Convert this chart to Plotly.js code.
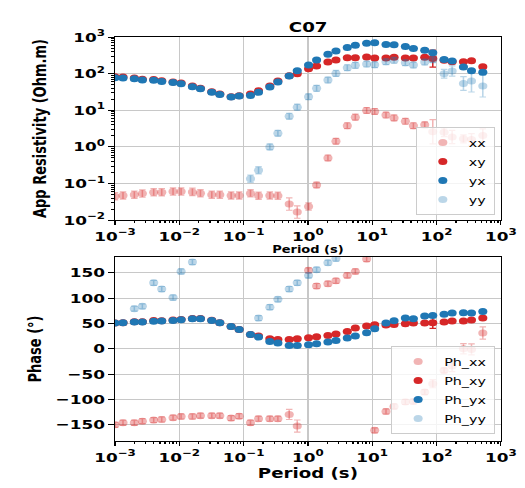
<!DOCTYPE html>
<html>
<head>
<meta charset="utf-8">
<script src="https://cdn.plot.ly/plotly-3.0.1.min.js"></script>
<style>
  html, body { margin: 0; padding: 0; background: #fff; overflow: hidden; }
  #wrap { width: 525px; height: 488px; overflow: hidden; }
  #chart { width: 404px; height: 488px; transform: scaleX(1.2995); transform-origin: 0 0; }
</style>
</head>
<body>
<div id="wrap"><div id="chart"></div></div>
<script>
// ---- data ----
const periods = [0.001, 0.001333, 0.002, 0.002667, 0.004, 0.005333, 0.008, 0.01067, 0.016, 0.02133,
  0.032, 0.04267, 0.064, 0.08533, 0.128, 0.1707, 0.256, 0.3413, 0.512, 0.6827,
  1.024, 1.365, 2.048, 2.731, 4.096, 5.461, 8.192, 10.92, 16.38, 21.85,
  32.77, 43.69, 65.54, 87.38, 131.1, 174.8, 262.1, 349.5, 524.3];

const rhoXX = [0.045, 0.047, 0.049, 0.053, 0.058, 0.058, 0.060, 0.060, 0.059, 0.054,
  0.049, 0.049, 0.047, 0.047, 0.054, 0.046, 0.047, 0.046, 0.0275, 0.0166,
  0.0234, 0.091, 0.50, 1.43, 3.8, 6.5, 9.9, 9.3, 7.4, 6.2,
  5.0, 3.8, 4.0, 2.6, 2.5, 1.87, 1.66, 1.6, 2.05];
const rhoXY = [83, 81, 76, 71, 69, 64, 59, 56, 46, 40,
  32, 28, 23.5, 25, 28, 34, 46, 63, 88, 100,
  137, 162, 208, 236, 274, 274, 285, 268, 268, 280,
  268, 268, 280, 258, 232, 213, 213, 226, 155];
const rhoYX = [78, 76, 73, 67, 66, 61, 57, 53, 44, 39,
  31, 27, 22.9, 24.5, 25.4, 31, 43, 59, 86, 120,
  172, 236, 338, 417, 516, 596, 677, 705, 632, 622,
  549, 484, 435, 376, 246, 221, 152, 121, 110];
const rhoYY = [null, null, null, null, null, null, null, null, null, null,
  null, null, null, null, 0.134, 0.23, 1.0, 2.36, 6.9, 12.2,
  23.5, 39.7, 67, 102, 146, 169, 183, 176, 213, 232,
  200, 172, 208, 240, 100, 118, 54, 63, 46];

// resistivity error half-widths in decades (log10 units)
const errRhoXX = [0.1, 0.1, 0.1, 0.1, 0.1, 0.1, 0.1, 0.1, 0.1, 0.1,
  0.1, 0.1, 0.1, 0.1, 0.1, 0.1, 0.1, 0.1, 0.17, 0.17,
  0.1, 0.08, 0.08, 0.08, 0.08, 0.08, 0.08, 0.08, 0.08, 0.08,
  0.08, 0.08, 0.08, 0.33, 0.12, 0.18, 0.11, 0.16, 0.18];
const errRhoXY = [0.03, 0.03, 0.03, 0.03, 0.03, 0.03, 0.03, 0.03, 0.03, 0.03,
  0.03, 0.03, 0.03, 0.03, 0.03, 0.03, 0.03, 0.03, 0.03, 0.03,
  0.03, 0.03, 0.03, 0.03, 0.03, 0.03, 0.03, 0.03, 0.03, 0.03,
  0.03, 0.03, 0.03, 0.23, 0.03, 0.03, 0.03, 0.03, 0.03];
const errRhoYX = [0.03, 0.03, 0.03, 0.03, 0.03, 0.03, 0.03, 0.03, 0.03, 0.03,
  0.03, 0.03, 0.03, 0.03, 0.03, 0.03, 0.03, 0.03, 0.03, 0.03,
  0.03, 0.03, 0.03, 0.03, 0.03, 0.03, 0.03, 0.03, 0.03, 0.03,
  0.03, 0.03, 0.03, 0.03, 0.03, 0.03, 0.03, 0.03, 0.03];
const errRhoYY = [0, 0, 0, 0, 0, 0, 0, 0, 0, 0,
  0, 0, 0, 0, 0.1, 0.1, 0.08, 0.08, 0.08, 0.08,
  0.08, 0.08, 0.08, 0.08, 0.08, 0.08, 0.08, 0.08, 0.08, 0.08,
  0.08, 0.08, 0.08, 0.08, 0.12, 0.14, 0.19, 0.3, 0.3];

const phXX = [-150, -146, -146, -142.8, -140.8, -139.5, -136, -133.6, -133.6, -132,
  -132, -132, -136.8, -133, -146, -138, -138, -138, -129.6, -152.6,
  154.6, 123.7, 128.3, 134, 144.7, 152.6, 177, -161, -123.7, -113.8,
  -105, -104, -85.5, -69, -42.8, -34.2, 0, -1.3, 31];
const phXY = [51, 51.5, 53, 53, 55.5, 55, 56.5, 57.5, 59.5, 59.5,
  56, 51.5, 44, 38, 28.3, 25, 19.7, 18.4, 18.4, 19.7,
  21.7, 23.7, 26.3, 29, 34.2, 40.8, 44.7, 47.4, 47, 48,
  49.3, 50.7, 50.7, 51.3, 52.6, 54.6, 54.6, 56.6, 60.5];
const phYX = [50.7, 51.3, 52.6, 52.6, 54, 54.6, 55.9, 57.2, 59.2, 59.2,
  55.9, 51.3, 44, 38, 28.3, 23, 14.5, 11.2, 6.6, 6.6,
  7.9, 9.9, 13.2, 16.4, 21, 25, 31.6, 39.5, 50.7, 55.3,
  60.5, 59.2, 64.5, 65.8, 67.8, 70.4, 71, 70.4, 73.7];
const phYY = [null, null, 79, 83.6, 130, 117.8, 101, 152.6, 171, null,
  null, null, null, null, null, 60.5, 82, 97.4, 117.8, 130,
  144.7, 156, 169.7, 178, null, null, null, null, null, null,
  null, null, null, null, null, null, null, null, null];

// phase error half-widths in degrees
const errPhXX = [5, 5, 5, 5, 5, 5, 5, 5, 5, 5,
  5, 5, 5, 5, 5, 5, 5, 5, 10, 12,
  5, 5, 5, 5, 5, 5, 5, 5, 5, 5,
  5, 5, 5, 8, 5, 11, 10, 11, 12];
const errPhXY = [2, 2, 2, 2, 2, 2, 2, 2, 2, 2,
  2, 2, 2, 2, 2, 2, 2, 2, 2, 2,
  2, 2, 2, 2, 2, 2, 2, 2, 2, 2,
  2, 2, 2, 11, 2, 2, 2, 2, 2];
const errPhYX = [2, 2, 2, 2, 2, 2, 2, 2, 2, 2,
  2, 2, 2, 2, 2, 2, 2, 2, 2, 2,
  2, 2, 2, 2, 2, 2, 2, 2, 2, 2,
  2, 2, 2, 2, 2, 2, 2, 2, 2];
const errPhYY = [5, 5, 5, 5, 5, 5, 5, 5, 5, 5,
  5, 5, 5, 5, 5, 5, 5, 5, 5, 5,
  5, 5, 5, 5, 5, 5, 5, 5, 5, 5,
  5, 5, 5, 5, 5, 5, 5, 5, 5];

const decadeTicksX = [1e-3, 1e-2, 1e-1, 1e0, 1e1, 1e2, 1e3];
const decadeTextX = ['10<sup>−3</sup>', '10<sup>−2</sup>', '10<sup>−1</sup>', '10<sup>0</sup>', '10<sup>1</sup>', '10<sup>2</sup>', '10<sup>3</sup>'];
const decadeTicksY = [1e-2, 1e-1, 1e0, 1e1, 1e2, 1e3];
const decadeTextY = ['10<sup>−2</sup>', '10<sup>−1</sup>', '10<sup>0</sup>', '10<sup>1</sup>', '10<sup>2</sup>', '10<sup>3</sup>'];
const phaseTicks = [-150, -100, -50, 0, 50, 100, 150];
const phaseText = ['−150', '−100', '−50', '0', '50', '100', '150'];

// ---- styling ----
const cXX = 'rgba(214,39,40,0.35)';
const cXY = '#d62728';
const cYX = '#1f77b4';
const cYY = 'rgba(31,119,180,0.3)';
const FONT = 'DejaVu Sans';

function minorLog(lo, hi) {
  const out = [];
  for (let e = lo; e < hi; e++) for (let m = 2; m <= 9; m++) out.push(m * Math.pow(10, e));
  return out;
}
function plusDex(v, d) { return v.map((y, i) => y == null ? null : y * (Math.pow(10, d[i]) - 1)); }
function minusDex(v, d) { return v.map((y, i) => y == null ? null : y * (1 - Math.pow(10, -d[i]))); }

function rhoTrace(name, vals, err, color) {
  return {
    type: 'scatter', mode: 'markers', name: name, x: periods, y: vals,
    xaxis: 'x', yaxis: 'y', legend: 'legend',
    marker: { color: color, size: 7, line: { width: 0 } },
    error_y: { type: 'data', symmetric: false, array: plusDex(vals, err), arrayminus: minusDex(vals, err),
      color: color, thickness: 1.2, width: 2.5 }
  };
}
function phTrace(name, vals, err, color) {
  return {
    type: 'scatter', mode: 'markers', name: name, x: periods, y: vals,
    xaxis: 'x2', yaxis: 'y2', legend: 'legend2',
    marker: { color: color, size: 7, line: { width: 0 } },
    error_y: { type: 'data', array: err, color: color, thickness: 1.2, width: 2.5 }
  };
}

const traces = [
  rhoTrace('xx', rhoXX, errRhoXX, cXX),
  rhoTrace('xy', rhoXY, errRhoXY, cXY),
  rhoTrace('yx', rhoYX, errRhoYX, cYX),
  rhoTrace('yy', rhoYY, errRhoYY, cYY),
  phTrace('Ph_xx', phXX, errPhXX, cXX),
  phTrace('Ph_xy', phXY, errPhXY, cXY),
  phTrace('Ph_yx', phYX, errPhYX, cYX),
  phTrace('Ph_yy', phYY, errPhYY, cYY)
];

const tickFont = { family: FONT, size: 13, color: '#000', weight: 'bold' };
const common = {
  showline: true, mirror: true, linecolor: '#000', linewidth: 1,
  ticks: 'outside', ticklen: 4, tickwidth: 1, tickcolor: '#000',
  showgrid: true, gridcolor: '#c8c8c8', gridwidth: 1, zeroline: false,
  tickfont: tickFont, automargin: false
};
const xDomain = [0.219, 0.954];

const layout = {
  width: 404, height: 488,
  margin: { l: 0, r: 0, t: 0, b: 0 },
  paper_bgcolor: '#fff', plot_bgcolor: '#fff',
  font: { family: FONT, color: '#000' },
  title: { text: 'C07', x: 0.587, xanchor: 'center', xref: 'paper', y: 1 - 27 / 488, yref: 'container', yanchor: 'middle',
    font: { family: FONT, size: 14, weight: 'bold', color: '#000' } },
  xaxis: Object.assign({}, common, {
    type: 'log', range: [-3, 3], domain: xDomain, anchor: 'y',
    tickmode: 'array', tickvals: decadeTicksX, ticktext: decadeTextX,
    minor: { tickmode: 'array', tickvals: minorLog(-3, 3), ticks: 'outside', ticklen: 2, tickcolor: '#000', showgrid: false },
    title: { text: 'Period (s)', standoff: 3, font: { family: FONT, size: 10, weight: 'bold', color: '#000' } }
  }),
  yaxis: Object.assign({}, common, {
    type: 'log', range: [-2, 3], domain: [0.549, 0.924], anchor: 'x',
    tickmode: 'array', tickvals: decadeTicksY, ticktext: decadeTextY,
    minor: { tickmode: 'array', tickvals: minorLog(-2, 3), ticks: 'outside', ticklen: 2, tickcolor: '#000', showgrid: false },
    title: { text: 'App Resistivity (Ohm.m)', standoff: 9, font: { family: FONT, size: 13, weight: 'bold', color: '#000' } }
  }),
  xaxis2: Object.assign({}, common, {
    type: 'log', range: [-3, 3], domain: xDomain, anchor: 'y2',
    tickmode: 'array', tickvals: decadeTicksX, ticktext: decadeTextX,
    minor: { tickmode: 'array', tickvals: minorLog(-3, 3), ticks: 'outside', ticklen: 2, tickcolor: '#000', showgrid: false },
    title: { text: 'Period (s)', standoff: 4, font: { family: FONT, size: 14, weight: 'bold', color: '#000' } }
  }),
  yaxis2: Object.assign({}, common, {
    range: [-182, 181], domain: [0.0963, 0.4734], anchor: 'x2',
    tickmode: 'array', tickvals: phaseTicks, ticktext: phaseText,
    title: { text: 'Phase (°)', standoff: 7, font: { family: FONT, size: 13, weight: 'bold', color: '#000' } }
  }),
  legend: { x: 0.9425, xanchor: 'right', y: 0.5594, yanchor: 'bottom',
    bgcolor: 'rgba(255,255,255,0.8)', bordercolor: '#cccccc', borderwidth: 1,
    font: { family: FONT, size: 11, color: '#000' }, itemwidth: 30 },
  legend2: { x: 0.9425, xanchor: 'right', y: 0.1107, yanchor: 'bottom',
    bgcolor: 'rgba(255,255,255,0.8)', bordercolor: '#cccccc', borderwidth: 1,
    font: { family: FONT, size: 11, color: '#000' }, itemwidth: 30 },
  showlegend: true
};

Plotly.newPlot('chart', traces, layout, { staticPlot: true, displayModeBar: false });
</script>
</body>
</html>
